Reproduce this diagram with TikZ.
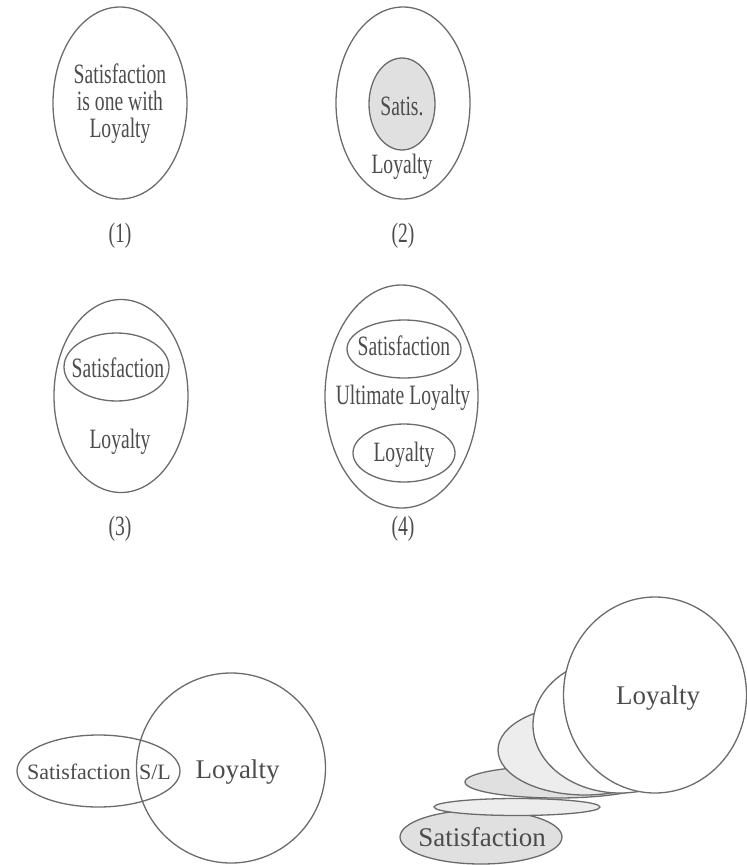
\documentclass[tikz,border=0pt]{standalone}
\usepackage{fontspec}
\setmainfont{Liberation Serif}
\newfontfamily\narrowfont[FakeStretch=0.7]{Liberation Serif}
\usetikzlibrary{positioning, shapes.geometric}
\definecolor{linegray}{gray}{0.42}
\definecolor{textgray}{gray}{0.3}
\definecolor{fillgray}{gray}{0.88}
\definecolor{palegray}{gray}{0.93}

\begin{document}
\begin{tikzpicture}[x=1pt, y=-1pt,
  ring/.style={ellipse, draw=linegray, line width=1.3pt, inner sep=0pt},
  toptext/.style={text=textgray, font=\narrowfont\fontsize{28}{27}\selectfont, align=center, inner sep=0pt},
  bigtext/.style={text=textgray, font=\fontsize{27}{30}\selectfont, inner sep=0pt},
  smalltext/.style={text=textgray, font=\fontsize{22}{24}\selectfont, inner sep=0pt}]
\useasboundingbox (0,0) rectangle (747,865);

% (1) one with
\node[ring, minimum width=134, minimum height=192] (one) at (120,103) {};
\node[toptext] (onetext) at (120,104) {Satisfaction\\is one with\\Loyalty};
\node[toptext] (lab1) at (120,236) {(1)};

% (2) satisfaction inside loyalty
\node[ring, minimum width=134, minimum height=192] (two) at (403,103) {};
\node[ring, fill=fillgray, minimum width=66, minimum height=92] (twosat) at (402,104) {};
\node[toptext] (twosattext) at (402,106) {Satis.};
\node[toptext] (twoloy) at (402,167) {Loyalty};
\node[toptext] (lab2) at (403,236) {(2)};

% (3) satisfaction on top
\node[ring, minimum width=134, minimum height=193] (three) at (121,396) {};
\node[ring, minimum width=105, minimum height=68] (threesat) at (116.5,367) {};
\node[toptext] (threesattext) at (118,368) {Satisfaction};
\node[toptext] (threeloy) at (120,442) {Loyalty};
\node[toptext] (lab3) at (120,529) {(3)};

% (4) ultimate loyalty
\node[ring, minimum width=153, minimum height=223] (four) at (401.5,396.5) {};
\node[ring, minimum width=114, minimum height=58] (foursat) at (404,349) {};
\node[toptext] (foursattext) at (404,346) {Satisfaction};
\node[toptext] (fourult) at (403,398) {Ultimate Loyalty};
\node[ring, minimum width=102, minimum height=58] (fourloy) at (404,453) {};
\node[toptext] (fourloytext) at (404,455) {Loyalty};
\node[toptext] (lab4) at (403,529) {(4)};

% (5) overlap
\node[ring, minimum width=163, minimum height=72] (fivesat) at (98.5,771) {};
\node[ring, minimum width=189, minimum height=190] (fiveloy) at (231,768) {};
\node[smalltext] (fivesattext) at (79,772) {Satisfaction};
\node[smalltext] (fivesl) at (155,772) {S/L};
\node[bigtext] (fiveloytext) at (237.5,772) {Loyalty};

% (6) growing stack, back to front
\node[ring, fill=fillgray, minimum width=162, minimum height=54] (sixsat) at (481,837) {};
\node[ring, fill=palegray, minimum width=166, minimum height=17] (sixa) at (517,807) {};
\node[ring, fill=fillgray, minimum width=184, minimum height=32] (sixb) at (557,782) {};
\node[ring, fill=palegray, minimum width=174, minimum height=90] (sixc) at (585,750) {};
\node[ring, fill=white, minimum width=174, minimum height=136] (sixd) at (620,725) {};
\node[ring, fill=white, minimum width=183, minimum height=196] (sixloy) at (655,695) {};
\node[bigtext] (sixsattext) at (482,837) {Satisfaction};
\node[bigtext] (sixloytext) at (658,698) {Loyalty};

\end{tikzpicture}
\end{document}
